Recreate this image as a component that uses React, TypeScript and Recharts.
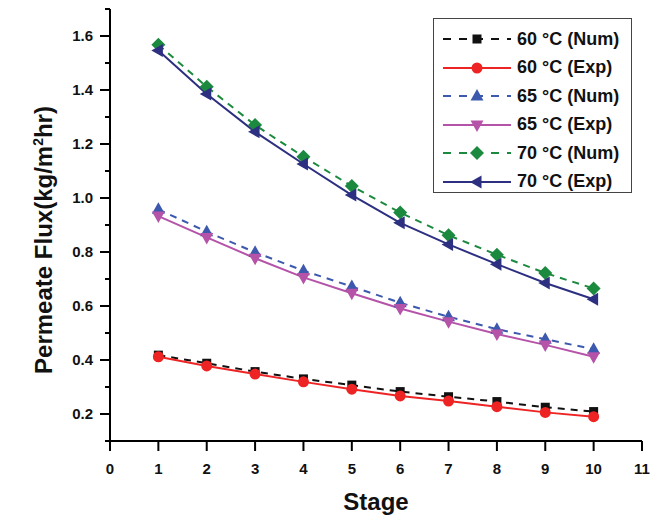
import { LineChart, Line, XAxis, YAxis, Legend } from "recharts";

const stages = [1, 2, 3, 4, 5, 6, 7, 8, 9, 10];
const num60 = [0.418, 0.388, 0.357, 0.33, 0.307, 0.283, 0.264, 0.246, 0.225, 0.209];
const exp60 = [0.412, 0.378, 0.348, 0.319, 0.292, 0.267, 0.248, 0.227, 0.206, 0.19];
const num65 = [0.958, 0.875, 0.799, 0.731, 0.672, 0.612, 0.56, 0.514, 0.477, 0.44];
const exp65 = [0.933, 0.854, 0.777, 0.706, 0.647, 0.591, 0.542, 0.496, 0.456, 0.412];
const num70 = [1.568, 1.412, 1.27, 1.153, 1.044, 0.946, 0.862, 0.79, 0.722, 0.665];
const exp70 = [1.546, 1.385, 1.245, 1.126, 1.011, 0.908, 0.828, 0.755, 0.685, 0.625];

const xTicks = [0, 1, 2, 3, 4, 5, 6, 7, 8, 9, 10, 11];
const yTicks = [0.1, 0.2, 0.3, 0.4, 0.5, 0.6, 0.7, 0.8, 0.9, 1.0, 1.1, 1.2, 1.3, 1.4, 1.5, 1.6, 1.7];

const FONT = "'Liberation Sans', Arial, sans-serif";

type Shape = "square" | "circle" | "up" | "down" | "diamond" | "left";

const series: { key: string; name: string; color: string; dashed: boolean; shape: Shape }[] = [
  { key: "num60", name: "60 °C (Num)", color: "#111111", dashed: true, shape: "square" },
  { key: "exp60", name: "60 °C (Exp)", color: "#ee2424", dashed: false, shape: "circle" },
  { key: "num65", name: "65 °C (Num)", color: "#3d59ad", dashed: true, shape: "up" },
  { key: "exp65", name: "65 °C (Exp)", color: "#b553a8", dashed: false, shape: "down" },
  { key: "num70", name: "70 °C (Num)", color: "#1b8a3f", dashed: true, shape: "diamond" },
  { key: "exp70", name: "70 °C (Exp)", color: "#2d2f80", dashed: false, shape: "left" },
];

function marker(shape: Shape, color: string, cx: number, cy: number, key?: string | number) {
  switch (shape) {
    case "square":
      return <rect key={key} x={cx - 4.5} y={cy - 4.5} width={9} height={9} fill={color} />;
    case "circle":
      return <circle key={key} cx={cx} cy={cy} r={5.5} fill={color} />;
    case "up":
      return <polygon key={key} points={`${cx},${cy - 7} ${cx - 6.5},${cy + 4.5} ${cx + 6.5},${cy + 4.5}`} fill={color} />;
    case "down":
      return <polygon key={key} points={`${cx},${cy + 7} ${cx - 6.5},${cy - 4.5} ${cx + 6.5},${cy - 4.5}`} fill={color} />;
    case "diamond":
      return <polygon key={key} points={`${cx},${cy - 7} ${cx + 7},${cy} ${cx},${cy + 7} ${cx - 7},${cy}`} fill={color} />;
    default:
      return <polygon key={key} points={`${cx - 7},${cy} ${cx + 4.5},${cy - 6.5} ${cx + 4.5},${cy + 6.5}`} fill={color} />;
  }
}

const YTick = (props: any) => {
  const { x, y, payload } = props;
  const v = payload.value as number;
  const major = Math.round(v * 10) % 2 === 0;
  return (
    <g>
      <line x1={x - (major ? 10 : 5)} x2={x} y1={y} y2={y} stroke="#000" strokeWidth={2} />
      {major && (
        <text x={x - 17} y={y + 5} textAnchor="end" fontFamily={FONT} fontWeight="bold" fontSize={15} fill="#111">
          {v.toFixed(1)}
        </text>
      )}
    </g>
  );
};

const XTick = (props: any) => {
  const { x, y, payload } = props;
  return (
    <g>
      <line x1={x} x2={x} y1={y} y2={y + 10} stroke="#000" strokeWidth={2} />
      <text x={x} y={y + 33} textAnchor="middle" fontFamily={FONT} fontWeight="bold" fontSize={15} fill="#111">
        {payload.value}
      </text>
    </g>
  );
};

const renderLegend = () => (
  <div
    style={{
      width: 199,
      height: 175,
      boxSizing: "border-box",
      border: "1.5px solid #444",
      background: "#fff",
      paddingTop: 6,
      fontFamily: FONT,
      fontWeight: "bold",
      fontSize: 18,
      color: "#111",
    }}
  >
    {series.map((s) => (
      <div key={s.key} style={{ display: "flex", alignItems: "center", height: 28.5 }}>
        <svg width={72} height={20} style={{ marginLeft: 8 }}>
          <line
            x1={1}
            x2={69}
            y1={10}
            y2={10}
            stroke={s.color}
            strokeWidth={2}
            strokeDasharray={s.dashed ? "8 8" : undefined}
          />
          {marker(s.shape, s.color, 35, 10)}
        </svg>
        <span style={{ marginLeft: 3, whiteSpace: "nowrap" }}>{s.name}</span>
      </div>
    ))}
  </div>
);

export default function App() {
  const data = stages.map((st, i) => ({
    stage: st,
    num60: num60[i],
    exp60: exp60[i],
    num65: num65[i],
    exp65: exp65[i],
    num70: num70[i],
    exp70: exp70[i],
  }));

  return (
    <div style={{ position: "absolute", left: 0, top: 0, width: 659, height: 518, background: "#fff" }}>
      <LineChart width={659} height={518} data={data} margin={{ top: 9, right: 17, bottom: 0, left: 0 }}>
        <XAxis
          dataKey="stage"
          type="number"
          domain={[0, 11]}
          ticks={xTicks}
          interval={0}
          height={77}
          tickSize={0}
          tickMargin={0}
          tickLine={false}
          tick={<XTick />}
          axisLine={{ stroke: "#000", strokeWidth: 2 }}
          label={{
            content: () => (
              <text x={376} y={510} textAnchor="middle" fontFamily={FONT} fontWeight="bold" fontSize={24} fill="#111">
                Stage
              </text>
            ),
          }}
        />
        <XAxis
          xAxisId="top"
          orientation="top"
          type="number"
          domain={[0, 11]}
          height={0}
          tick={false}
          tickLine={false}
          axisLine={{ stroke: "#000", strokeWidth: 2 }}
        />
        <YAxis
          type="number"
          domain={[0.1, 1.7]}
          ticks={yTicks}
          interval={0}
          allowDataOverflow
          width={110}
          tickSize={0}
          tickMargin={0}
          tickLine={false}
          tick={<YTick />}
          axisLine={{ stroke: "#000", strokeWidth: 2 }}
          label={{
            content: () => (
              <text
                x={52}
                y={240}
                transform="rotate(-90 52 240)"
                textAnchor="middle"
                fontFamily={FONT}
                fontWeight="bold"
                fontSize={24}
                fill="#111"
              >
                Permeate Flux(kg/m
                <tspan dy={-9} fontSize={14}>2</tspan>
                <tspan dy={9}>hr)</tspan>
              </text>
            ),
          }}
        />
        <YAxis
          yAxisId="right"
          orientation="right"
          type="number"
          domain={[0.1, 1.7]}
          width={0}
          tick={false}
          tickLine={false}
          axisLine={{ stroke: "#000", strokeWidth: 2 }}
        />
        <Legend
          layout="horizontal"
          verticalAlign="middle"
          align="center"
          content={renderLegend}
          wrapperStyle={{ position: "absolute", left: 433, top: 18, width: 199, height: 175 }}
        />
        {series.map((s) => (
          <Line
            key={s.key}
            dataKey={s.key}
            name={s.name}
            stroke={s.color}
            strokeWidth={2}
            strokeDasharray={s.dashed ? "7 6" : undefined}
            type="linear"
            isAnimationActive={false}
            dot={(p: any) => marker(s.shape, s.color, p.cx, p.cy, `${s.key}-${p.index}`)}
            activeDot={false}
          />
        ))}
      </LineChart>
    </div>
  );
}
